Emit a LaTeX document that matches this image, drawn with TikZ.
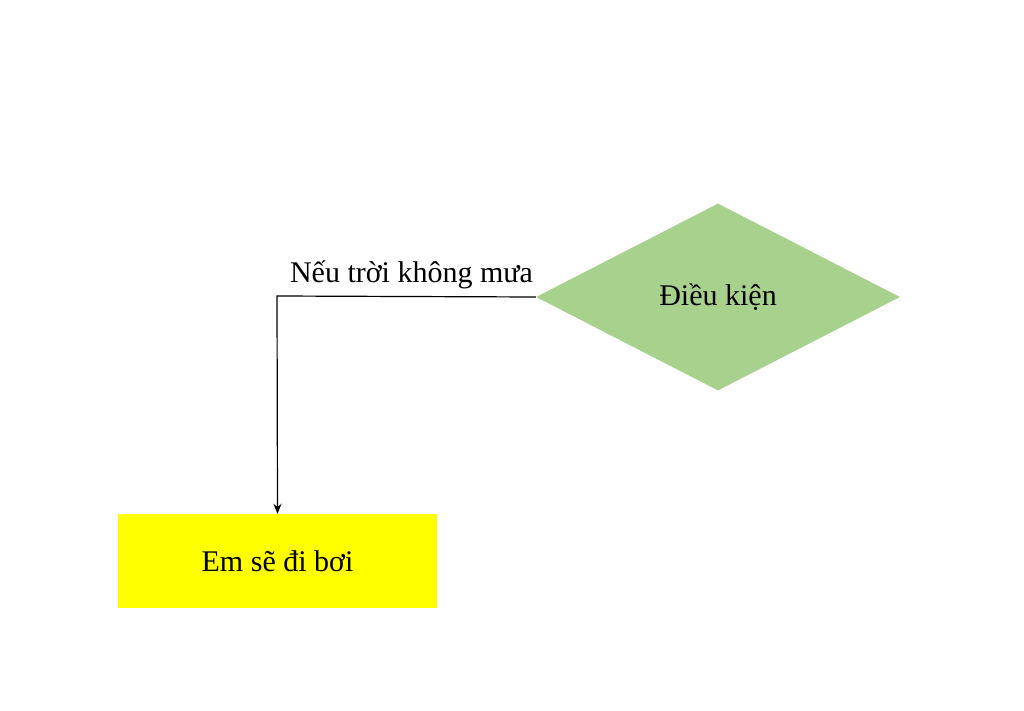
\documentclass[tikz,border=0pt]{standalone}
\usepackage{fontspec}
\setmainfont{Liberation Serif}
\usetikzlibrary{shapes.geometric,arrows.meta}
\definecolor{dgreen}{HTML}{A9D18E}
\definecolor{byellow}{HTML}{FFFF00}
\tikzset{
  txt/.style={font=\fontsize{30}{34}\selectfont},
  decision/.style={txt, shape=diamond, fill=dgreen, draw=none, minimum width=364pt, minimum height=187pt, inner sep=0pt},
  action/.style={txt, shape=rectangle, fill=byellow, draw=none, minimum width=319pt, minimum height=94pt, inner sep=0pt},
  conn/.style={draw=black, line width=1.2pt, -{Stealth[length=10pt,width=8pt]}},
  lbl/.style={txt, inner sep=0pt}
}
\begin{document}
\begin{tikzpicture}[x=1pt,y=-1pt]
\useasboundingbox (0,0) rectangle (1024,711);
\node[decision] (cond) at (718,297) {Điều kiện};
\node[action] (act) at (277.5,561) {Em sẽ đi bơi};
\coordinate (bend) at (277,296);
\draw[conn] (cond.west) -- (bend) -- (act.north);
\node[lbl, anchor=base] (lab) at (411.5,282) {Nếu trời không mưa};
\end{tikzpicture}
\end{document}
